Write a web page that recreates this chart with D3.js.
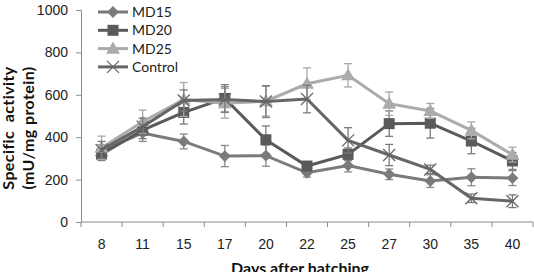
<!DOCTYPE html>
<html>
<head>
<meta charset="utf-8">
<script src="https://cdn.jsdelivr.net/npm/d3@7"></script>
<style>
  body { margin: 0; background: #fff; }
  svg { display: block; font-family: Lato, "Open Sans", sans-serif; font-variant-ligatures: none; }
</style>
</head>
<body>
<div id="chart"></div>
<script>
// data
var days = ["8", "11", "15", "17", "20", "22", "25", "27", "30", "35", "40"];
var md15 = [335, 420, 380, 311, 313, 232, 266, 225, 193, 211, 207];
var md15Err = [30, 40, 35, 50, 50, 20, 30, 25, 30, 40, 35];
var md20 = [320, 433, 517, 583, 388, 264, 319, 464, 466, 382, 288];
var md20Err = [30, 40, 55, 65, 65, 20, 30, 60, 70, 60, 40];
var md25 = [350, 473, 578, 560, 570, 652, 692, 558, 524, 432, 318];
var md25Err = [55, 55, 80, 70, 70, 75, 55, 55, 35, 40, 35];
var control = [340, 450, 573, 578, 568, 580, 385, 316, 248, 112, 98];
var controlErr = [40, 40, 50, 60, 75, 65, 60, 50, 20, 20, 30];
var yTicks = [0, 200, 400, 600, 800, 1000];

var series = [
  {name: "MD15", values: md15, err: md15Err, color: "#7b7b7b", errColor: "#8a8a8a", marker: "diamond"},
  {name: "MD20", values: md20, err: md20Err, color: "#5a5a5a", errColor: "#7a7a7a", marker: "square"},
  {name: "MD25", values: md25, err: md25Err, color: "#ababab", errColor: "#a8a8a8", marker: "triangle"},
  {name: "Control", values: control, err: controlErr, color: "#666666", errColor: "#7a7a7a", marker: "cross"}
];

var W = 534, H = 272;
var svg = d3.select("#chart").append("svg").attr("width", W).attr("height", H);

var x = d3.scaleBand().domain(days).range([81, 533]);
var y = d3.scaleLinear().domain([0, 1000]).range([222, 10]);

var axisColor = "#8c8c8c";

// y axis
var yAxis = svg.append("g").attr("transform", "translate(81,0)")
  .call(d3.axisLeft(y).tickValues(yTicks).tickFormat(d3.format("d")).tickSize(5).tickPadding(8));
yAxis.select(".domain").attr("stroke", axisColor);
yAxis.selectAll(".tick line").attr("stroke", axisColor);
yAxis.selectAll("text").style("font-size", "14px").attr("fill", "#222");

// x axis
var xAxis = svg.append("g").attr("transform", "translate(0,222)")
  .call(d3.axisBottom(x).tickSize(0).tickPadding(17));
xAxis.select(".domain").attr("stroke", axisColor).attr("d", "M81,0H533");
xAxis.selectAll("text").style("font-size", "14px").attr("fill", "#222");
// tick marks sit between categories
xAxis.selectAll(".band-tick").data(days.concat(["end"])).enter().append("line")
  .attr("class", "band-tick")
  .attr("x1", function(d, i) { return 81 + i * x.step(); })
  .attr("x2", function(d, i) { return 81 + i * x.step(); })
  .attr("y1", 0).attr("y2", 5)
  .attr("stroke", axisColor);

var cx = function(i) { return x(days[i]) + x.bandwidth() / 2; };

function drawMarker(g, type, color, px, py) {
  if (type === "diamond") {
    g.append("path").attr("d", d3.symbol().type(d3.symbolDiamond2 || d3.symbolDiamond).size(90)())
      .attr("transform", "translate(" + px + "," + py + ")")
      .attr("fill", color);
  } else if (type === "square") {
    g.append("rect").attr("x", px - 5.5).attr("y", py - 5.5).attr("width", 11).attr("height", 11)
      .attr("fill", color);
  } else if (type === "triangle") {
    g.append("path").attr("d", d3.symbol().type(d3.symbolTriangle).size(85)())
      .attr("transform", "translate(" + px + "," + (py + 1) + ")")
      .attr("fill", color);
  } else {
    g.append("path").attr("d", "M-6,-6L6,6M-6,6L6,-6")
      .attr("transform", "translate(" + px + "," + py + ")")
      .attr("stroke", color).attr("stroke-width", 1.3).attr("fill", "none");
  }
}

var line = d3.line().x(function(d, i) { return cx(i); }).y(function(d) { return y(d); });

series.forEach(function(s) {
  var g = svg.append("g");
  // error bars
  s.values.forEach(function(v, i) {
    var px = cx(i), top = y(v + s.err[i]), bot = y(v - s.err[i]);
    g.append("line").attr("x1", px).attr("x2", px).attr("y1", top).attr("y2", bot)
      .attr("stroke", s.errColor).attr("stroke-width", 1.3);
    [top, bot].forEach(function(yy) {
      g.append("line").attr("x1", px - 4).attr("x2", px + 4).attr("y1", yy).attr("y2", yy)
        .attr("stroke", s.errColor).attr("stroke-width", 1.3);
    });
  });
  g.append("path").datum(s.values).attr("d", line)
    .attr("fill", "none").attr("stroke", s.color).attr("stroke-width", 3);
  s.values.forEach(function(v, i) { drawMarker(g, s.marker, s.color, cx(i), y(v)); });
});

// legend
var legend = svg.append("g");
series.forEach(function(s, i) {
  var ly = 12 + i * 18.3;
  legend.append("line").attr("x1", 98).attr("x2", 128).attr("y1", ly).attr("y2", ly)
    .attr("stroke", s.color).attr("stroke-width", 3);
  drawMarker(legend, s.marker, s.color, 113, ly);
  legend.append("text").attr("x", 132).attr("y", ly + 5)
    .style("font-size", "14px").attr("fill", "#222").text(s.name);
});

// axis titles
var yt = svg.append("text").attr("transform", "translate(0,128) rotate(-90)")
  .attr("text-anchor", "middle").style("font-size", "16px").style("font-weight", "bold")
  .style("letter-spacing", "0.4px").style("white-space", "pre").attr("fill", "#111");
yt.append("tspan").attr("x", 0).attr("y", 14).text("Specific  activity");
yt.append("tspan").attr("x", 0).attr("y", 34).text("(mU/mg protein)");

svg.append("text").attr("x", 300).attr("y", 274).attr("text-anchor", "middle")
  .style("font-size", "16px").style("font-weight", "bold").attr("fill", "#111")
  .text("Days after hatching");
</script>
</body>
</html>
